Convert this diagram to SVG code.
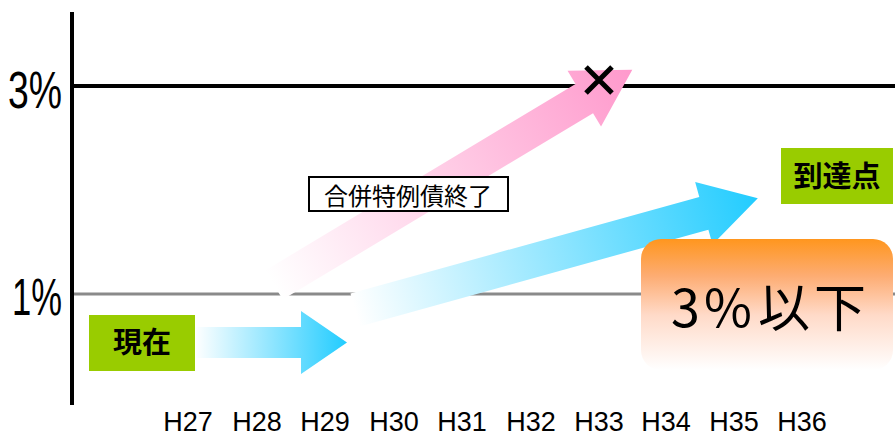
<svg xmlns="http://www.w3.org/2000/svg" width="895" height="436" viewBox="0 0 895 436">
<defs>
<linearGradient id="gPink" x1="0" y1="0" x2="1" y2="0"><stop offset="0" stop-color="#ffffff"/><stop offset="1" stop-color="#ff99cc"/></linearGradient>
<linearGradient id="gBlue" x1="0" y1="0" x2="1" y2="0"><stop offset="0" stop-color="#ffffff"/><stop offset="1" stop-color="#22ccff"/></linearGradient>
<linearGradient id="gOrange" x1="0" y1="0" x2="0" y2="1"><stop offset="0" stop-color="#ff961e"/><stop offset="0.28" stop-color="#fdac72"/><stop offset="0.58" stop-color="#ffdac8"/><stop offset="1" stop-color="#ffffff"/></linearGradient>
<polygon id="arr" points="0,-17 362,-17 362,-32.5 418,0 362,32.5 362,17 0,17"/>
</defs>
<style>
.ax{font-family:"Liberation Sans",Arial,sans-serif;fill:#000}
.yl{font-size:52px}
.xl{font-size:27px;text-anchor:middle}
.cjk{font-family:"Noto Sans CJK JP",sans-serif;fill:#000}
.lbl{font-weight:bold;font-size:29px;text-anchor:middle}
.green{fill:#99cc00}
</style>
<g id="axes">
<line x1="72" y1="12" x2="72" y2="405" stroke="#000" stroke-width="4"/>
<line x1="72" y1="86" x2="895" y2="86" stroke="#000" stroke-width="4"/>
<line x1="74" y1="294" x2="895" y2="294" stroke="#8a8a8a" stroke-width="3"/>
<text class="ax yl" x="8" y="108" textLength="54" lengthAdjust="spacingAndGlyphs">3%</text>
<text class="ax yl" x="12" y="315" textLength="50" lengthAdjust="spacingAndGlyphs">1%</text>
<text class="ax xl" x="188" y="431">H27</text>
<text class="ax xl" x="257" y="431">H28</text>
<text class="ax xl" x="325" y="431">H29</text>
<text class="ax xl" x="394" y="431">H30</text>
<text class="ax xl" x="462" y="431">H31</text>
<text class="ax xl" x="531" y="431">H32</text>
<text class="ax xl" x="599" y="431">H33</text>
<text class="ax xl" x="666" y="431">H34</text>
<text class="ax xl" x="734" y="431">H35</text>
<text class="ax xl" x="802" y="431">H36</text>
</g>
<g id="connectors">
<use href="#arr" fill="url(#gPink)" transform="translate(274,285) rotate(-31)"/>
<use href="#arr" fill="url(#gBlue)" transform="translate(355,310) rotate(-15.5)"/>
<polygon points="195,327 301,327 301,311 347,342.5 301,374 301,358 195,358" fill="url(#gBlue)"/>
</g>
<g id="cross">
<path d="M586,67 L612,93 M612,67 L586,93" stroke="#000" stroke-width="5" fill="none"/>
</g>
<g id="note">
<rect x="309" y="177" width="199" height="34" fill="#fff" stroke="#000" stroke-width="2"/>
<text class="cjk" x="408" y="205" font-size="24" text-anchor="middle">合併特例債終了</text>
</g>
<g id="genzai">
<rect class="green" x="89" y="315" width="106" height="56"/>
<text class="cjk lbl" x="142" y="353">現在</text>
</g>
<g id="totatsuten">
<rect class="green" x="781" y="148" width="112" height="56"/>
<text class="cjk lbl" x="837" y="187">到達点</text>
</g>
<g id="target">
<rect x="641" y="239" width="252" height="131" rx="20" fill="url(#gOrange)"/>
<text class="cjk" y="327" font-size="52"><tspan x="671">3</tspan><tspan x="704">%</tspan><tspan x="758">以</tspan><tspan x="814">下</tspan></text>
</g>
</svg>
